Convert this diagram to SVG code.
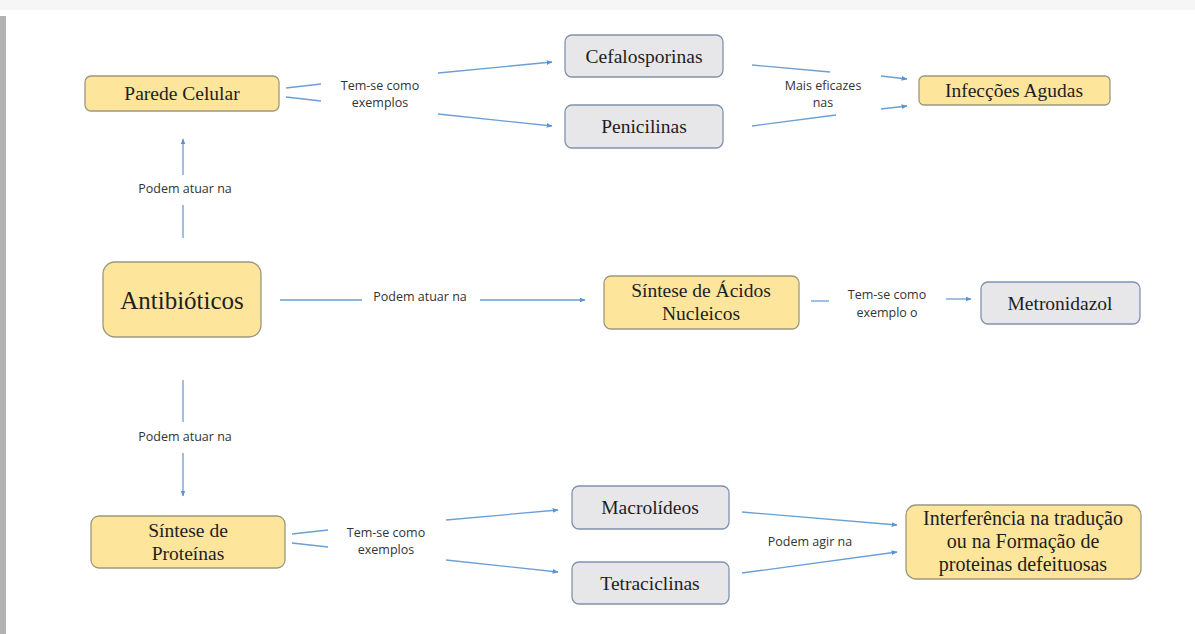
<svg xmlns="http://www.w3.org/2000/svg" width="1195" height="634" viewBox="0 0 1195 634">
<defs>
<style>
.y{fill:#fde59c;stroke:#9c9880;stroke-width:1.3}
.g{fill:#e7e7ea;stroke:#8092ab;stroke-width:1.3}
.t{font-family:"Liberation Serif","Times New Roman",serif;font-size:19.5px;fill:#1e1e1e;text-anchor:middle}
.l{font-family:"Open Sans","Liberation Sans",Arial,sans-serif;font-size:12.5px;fill:#333;text-anchor:middle}
.c{stroke:#6a9fd4;stroke-width:1.3;fill:none}
.a{marker-end:url(#ah)}
</style>
<marker id="ah" viewBox="0 0 10 10" refX="9" refY="5" markerWidth="6" markerHeight="6" orient="auto" markerUnits="userSpaceOnUse">
<path d="M0,1 L10,5 L0,9 z" fill="#5b93cf"/>
</marker>
</defs>
<rect x="0" y="0" width="1195" height="634" fill="#ffffff"/>
<rect x="0" y="0" width="1195" height="10" fill="#f6f6f6"/>
<rect x="0" y="16" width="6" height="618" fill="#b3b3b3"/>

<g id="connectors">
<line class="c" x1="183" y1="238" x2="183" y2="205"/>
<line class="c a" x1="183" y1="175" x2="183" y2="139"/>
<text class="l" x="185" y="193">Podem atuar na</text>

<line class="c" x1="280" y1="300" x2="362" y2="300"/>
<line class="c a" x1="480" y1="300" x2="585" y2="300"/>
<text class="l" x="420" y="301">Podem atuar na</text>

<line class="c" x1="183" y1="380" x2="183" y2="422"/>
<line class="c a" x1="183" y1="453" x2="183" y2="496"/>
<text class="l" x="185" y="441">Podem atuar na</text>

<line class="c" x1="286" y1="88" x2="321" y2="84"/>
<line class="c" x1="286" y1="97" x2="321" y2="101"/>
<text class="l" x="380" y="90">Tem-se como</text>
<text class="l" x="380" y="107">exemplos</text>
<line class="c a" x1="438" y1="73" x2="552" y2="62"/>
<line class="c a" x1="438" y1="114" x2="552" y2="126"/>

<line class="c" x1="752" y1="65" x2="830" y2="72"/>
<line class="c" x1="752" y1="126" x2="836" y2="115"/>
<text class="l" x="823" y="90">Mais eficazes</text>
<text class="l" x="823" y="107">nas</text>
<line class="c a" x1="881" y1="76" x2="907" y2="79"/>
<line class="c a" x1="881" y1="109" x2="907" y2="106"/>

<line class="c" x1="811" y1="301" x2="829" y2="301"/>
<text class="l" x="887" y="299">Tem-se como</text>
<text class="l" x="887" y="317">exemplo o</text>
<line class="c a" x1="946" y1="299" x2="971" y2="299"/>

<line class="c" x1="292" y1="534" x2="328" y2="530"/>
<line class="c" x1="292" y1="543" x2="328" y2="547"/>
<text class="l" x="386" y="537">Tem-se como</text>
<text class="l" x="386" y="554">exemplos</text>
<line class="c a" x1="446" y1="520" x2="558" y2="510"/>
<line class="c a" x1="446" y1="560" x2="558" y2="572"/>

<line class="c a" x1="742" y1="512" x2="897" y2="525"/>
<line class="c a" x1="742" y1="573" x2="897" y2="552"/>
<text class="l" x="810" y="546">Podem agir na</text>
</g>

<g id="parede">
<rect class="y" x="85" y="76" width="194" height="35" rx="6"/>
<text class="t" x="182" y="100">Parede Celular</text>
</g>
<g id="cefalosporinas">
<rect class="g" x="565" y="35" width="158" height="42" rx="7"/>
<text class="t" x="644" y="63">Cefalosporinas</text>
</g>
<g id="penicilinas">
<rect class="g" x="565" y="105" width="158" height="43" rx="7"/>
<text class="t" x="644" y="133">Penicilinas</text>
</g>
<g id="infeccoes">
<rect class="y" x="919" y="76" width="191" height="29" rx="5"/>
<text class="t" x="1014" y="97">Infecções Agudas</text>
</g>
<g id="antibioticos">
<rect class="y" x="103" y="262" width="158" height="75" rx="12"/>
<text class="t" x="182" y="309" style="font-size:25px">Antibióticos</text>
</g>
<g id="acidos">
<rect class="y" x="604" y="276" width="195" height="53" rx="7"/>
<text class="t" x="701" y="297">Síntese de Ácidos</text>
<text class="t" x="701" y="320">Nucleicos</text>
</g>
<g id="metronidazol">
<rect class="g" x="981" y="282" width="159" height="42" rx="7"/>
<text class="t" x="1060" y="310">Metronidazol</text>
</g>
<g id="proteinas">
<rect class="y" x="91" y="516" width="194" height="52" rx="8"/>
<text class="t" x="188" y="537">Síntese de</text>
<text class="t" x="188" y="560">Proteínas</text>
</g>
<g id="macrolideos">
<rect class="g" x="572" y="486" width="157" height="43" rx="7"/>
<text class="t" x="650" y="514">Macrolídeos</text>
</g>
<g id="tetraciclinas">
<rect class="g" x="572" y="562" width="157" height="42" rx="7"/>
<text class="t" x="650" y="590">Tetraciclinas</text>
</g>
<g id="interferencia">
<rect class="y" x="906" y="505" width="235" height="74" rx="10"/>
<text class="t" x="1023" y="525" style="font-size:20px">Interferência na tradução</text>
<text class="t" x="1023" y="548" style="font-size:20px">ou na Formação de</text>
<text class="t" x="1023" y="571" style="font-size:20px">proteinas defeituosas</text>
</g>
</svg>
